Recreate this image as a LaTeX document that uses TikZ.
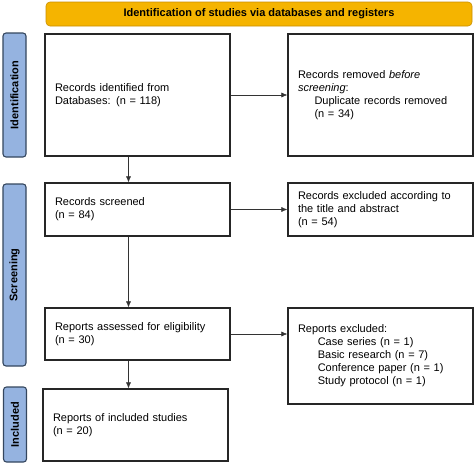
\documentclass[tikz,border=0pt]{standalone}
\usepackage{fontspec}
\setmainfont{Liberation Sans}
\usepackage{tikz}
\usetikzlibrary{arrows.meta}

\definecolor{headfill}{HTML}{F5B400}
\definecolor{headline}{HTML}{C98F00}
\definecolor{sidefill}{HTML}{95B3E0}
\definecolor{sideline}{HTML}{34465E}

\tikzset{
  recbox/.style={draw=black!85, line width=1.2pt, fill=white, minimum width=185pt,
    text width=165pt, align=left, inner sep=0pt, font=\fontsize{11}{13}\selectfont},
  sidebar/.style={draw=sideline, line width=1.1pt, fill=sidefill, rounded corners=3pt,
    minimum height=23pt, rotate=90, font=\fontsize{11}{13}\selectfont\bfseries},
  headbar/.style={draw=headline, line width=0.6pt, fill=headfill, rounded corners=4pt,
    minimum width=426pt, minimum height=24pt, font=\fontsize{11}{13}\selectfont\bfseries},
  flow/.style={draw=black!80, line width=0.6pt, -{Latex[length=6pt,width=5pt]}}
}

\begin{document}
\begin{tikzpicture}[x=1pt, y=-1pt]
        \useasboundingbox (0, 0) rectangle (474, 463);

        % header and stages
        \node[headbar] (head) at (259, 14) {Identification of studies via databases and registers};
        \node[sidebar, minimum width=124pt] (ident) at (14.5, 95) {Identification};
        \node[sidebar, minimum width=182pt] (screen) at (14.5, 275) {Screening};
        \node[sidebar, minimum width=75pt] (incl) at (15, 424.5) {Included};

        % boxes
        \node[recbox, minimum height=122pt] (ident1) at (137.5, 95)
          {Records identified from\\Databases: (n = 118)\\[8pt]};
        \node[recbox, minimum height=122pt] (dupl) at (380.5, 95)
          {Records removed \emph{before}\\\emph{screening}:\\\hspace*{1.5em}Duplicate records removed\\\hspace*{1.5em}(n = 34)\\[8pt]};
        \node[recbox, minimum height=53pt] (scr) at (137.5, 209.5)
          {Records screened\\(n = 84)};
        \node[recbox, minimum height=53pt] (excl) at (380.5, 209.5)
          {Records excluded according to\\the title and abstract\\(n = 54)};
        \node[recbox, minimum height=52pt] (elig) at (137.5, 334)
          {Reports assessed for eligibility\\(n = 30)};
        \node[recbox, minimum height=96pt] (rexcl) at (380.5, 356)
          {Reports excluded:\\\hspace*{1.8em}Case series (n = 1)\\\hspace*{1.8em}Basic research (n = 7)\\\hspace*{1.8em}Conference paper (n = 1)\\\hspace*{1.8em}Study protocol (n = 1)};
        \node[recbox, minimum height=72pt] (incd) at (135.5, 425)
          {Reports of included studies\\(n = 20)};

        % connectors
        \coordinate (down) at (128.5, 0);
        \draw[flow] (ident1.south -| down) -- (scr.north -| down);
        \draw[flow] (scr.south -| down) -- (elig.north -| down);
        \draw[flow] (elig.south -| down) -- (incd.north -| down);
        \draw[flow] (ident1.east) -- (dupl.west);
        \draw[flow] (scr.east) -- (excl.west);
        \draw[flow] (elig.east) -- (elig.east -| rexcl.west);
      \end{tikzpicture}
\end{document}
